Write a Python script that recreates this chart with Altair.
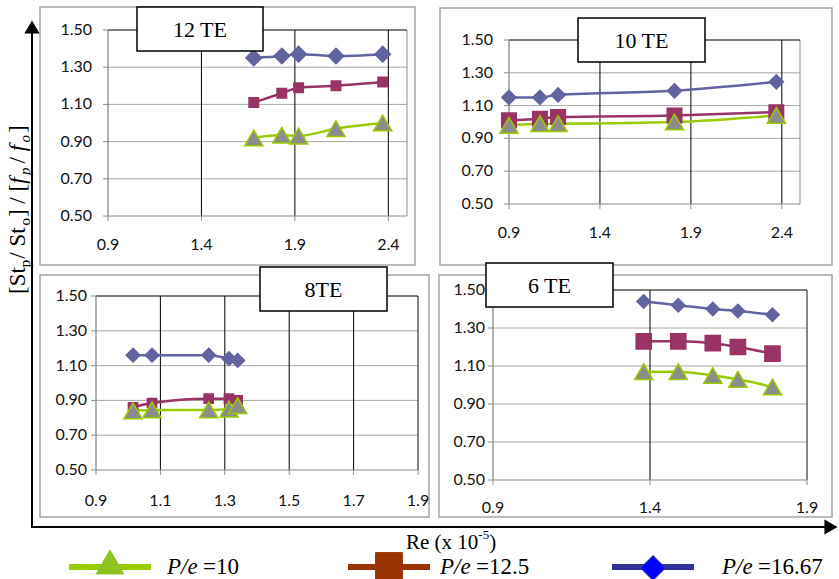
import altair as alt
import pandas as pd

# ---------------- data ----------------
SERIES = ["P/e =16.67", "P/e =12.5", "P/e =10"]

# 12 TE
re_12 = [1.68, 1.83, 1.92, 2.12, 2.37]
pe10_12 = [0.92, 0.935, 0.93, 0.97, 1.00]
pe125_12 = [1.11, 1.16, 1.19, 1.20, 1.22]
pe1667_12 = [1.35, 1.36, 1.37, 1.36, 1.37]

# 10 TE
re_10 = [0.90, 1.07, 1.17, 1.81, 2.37]
pe10_10 = [0.98, 0.99, 0.99, 1.00, 1.04]
pe125_10 = [1.01, 1.02, 1.03, 1.04, 1.06]
pe1667_10 = [1.15, 1.15, 1.165, 1.19, 1.245]

# 8 TE
re_8 = [1.015, 1.074, 1.25, 1.313, 1.34]
pe10_8 = [0.84, 0.845, 0.845, 0.85, 0.87]
pe125_8 = [0.86, 0.885, 0.91, 0.91, 0.90]
pe1667_8 = [1.16, 1.16, 1.16, 1.14, 1.13]

# 6 TE
re_6 = [1.38, 1.49, 1.60, 1.68, 1.79]
pe10_6 = [1.07, 1.07, 1.05, 1.03, 0.99]
pe125_6 = [1.23, 1.23, 1.22, 1.20, 1.165]
pe1667_6 = [1.44, 1.42, 1.40, 1.39, 1.37]

y_ticks = [0.5, 0.7, 0.9, 1.1, 1.3, 1.5]
x_ticks_wide = [0.9, 1.4, 1.9, 2.4]
x_ticks_8 = [0.9, 1.1, 1.3, 1.5, 1.7, 1.9]
x_ticks_6 = [0.9, 1.4, 1.9]

panel_labels = ["12 TE", "10 TE", "8TE", "6 TE"]

# ---------------- styles ----------------
LINE_COLORS = ["#6264A0", "#993366", "#99CC00"]
FILL_COLORS = ["#6264A0", "#993366", "#8C8C8C"]
STROKE_COLORS = ["#6264A0", "#993366", "#99CC00"]
SHAPES = ["diamond", "square", "triangle-up"]
TICK_FONT = "Lato"
SERIF = "Liberation Serif"

PANELS = [
    dict(label=panel_labels[0], re=re_12, ys=[pe1667_12, pe125_12, pe10_12],
         xticks=x_ticks_wide, xdom=[0.9, 2.5], xr=[108, 407], yr=[216, 30],
         xlab_y=245, ylab_gap=16, box=(40, 7, 415, 265), lbox=(137, 7, 263, 51),
         sizes=[240, 90, 330]),
    dict(label=panel_labels[1], re=re_10, ys=[pe1667_10, pe125_10, pe10_10],
         xticks=x_ticks_wide, xdom=[0.9, 2.5], xr=[509, 800], yr=[204, 40],
         xlab_y=233, ylab_gap=16, box=(440, 8, 832, 265), lbox=(578, 18, 705, 62),
         sizes=[200, 210, 330]),
    dict(label=panel_labels[2], re=re_8, ys=[pe1667_8, pe125_8, pe10_8],
         xticks=x_ticks_8, xdom=[0.9, 1.9], xr=[96, 418], yr=[470, 296],
         xlab_y=501, ylab_gap=9, box=(40, 275, 429, 517), lbox=(260, 267, 387, 311),
         sizes=[190, 85, 330]),
    dict(label=panel_labels[3], re=re_6, ys=[pe1667_6, pe125_6, pe10_6],
         xticks=x_ticks_6, xdom=[0.9, 1.9], xr=[493, 807], yr=[480, 290],
         xlab_y=508, ylab_gap=8, box=(439, 275, 832, 517), lbox=(486, 263, 613, 307),
         sizes=[180, 230, 330]),
]

ONE = pd.DataFrame({"k": [0]})


def panel_chart(p):
    xs = alt.Scale(domain=p["xdom"], range=p["xr"], nice=False, zero=False)
    ys = alt.Scale(domain=[0.5, 1.5], range=p["yr"], nice=False, zero=False)
    x0, x1 = p["xr"]
    yb, yt = p["yr"]
    bx0, by0, bx1, by1 = p["box"]
    lx0, ly0, lx1, ly1 = p["lbox"]

    outer = alt.Chart(ONE).mark_rect(fill="white", stroke="#A6A6A6", strokeWidth=1.5).encode(
        x=alt.value(bx0), x2=alt.value(bx1), y=alt.value(by0), y2=alt.value(by1))

    hg = pd.DataFrame({"v": [v for v in y_ticks if 0.5 < v < 1.5]})
    hgrid = alt.Chart(hg).mark_rule(color="#A6A6A6", strokeWidth=1).encode(
        y=alt.Y("v:Q", scale=ys, axis=None), x=alt.value(x0), x2=alt.value(x1))

    vg = pd.DataFrame({"v": [v for v in p["xticks"] if v > p["xdom"][0]]})
    vgrid = alt.Chart(vg).mark_rule(color="#000000", strokeWidth=1).encode(
        x=alt.X("v:Q", scale=xs, axis=None), y=alt.value(yt), y2=alt.value(yb))

    frame_right = alt.Chart(ONE).mark_rule(color="#8C8C8C", strokeWidth=1).encode(
        x=alt.value(x1), y=alt.value(yt), y2=alt.value(yb))
    frame_top = alt.Chart(ONE).mark_rule(color="#000000", strokeWidth=1).encode(
        x=alt.value(x0), x2=alt.value(x1), y=alt.value(yt))
    frame_left = alt.Chart(ONE).mark_rule(color="#7F7F7F", strokeWidth=1.2).encode(
        x=alt.value(x0), y=alt.value(yt), y2=alt.value(yb))
    frame_bottom = alt.Chart(ONE).mark_rule(color="#8C8C8C", strokeWidth=1.2).encode(
        x=alt.value(x0), x2=alt.value(x1), y=alt.value(yb))

    xt = pd.DataFrame({"v": p["xticks"]})
    xtick_marks = alt.Chart(xt).mark_rule(color="#8C8C8C").encode(
        x=alt.X("v:Q", scale=xs, axis=None), y=alt.value(yb), y2=alt.value(yb + 5))
    xtick_labels = alt.Chart(xt).mark_text(font=TICK_FONT, fontSize=16, color="#111111",
                                           align="center", baseline="middle").encode(
        x=alt.X("v:Q", scale=xs, axis=None), y=alt.value(p["xlab_y"]),
        text=alt.Text("v:Q", format=".1f"))

    yt_df = pd.DataFrame({"v": y_ticks})
    ytick_marks = alt.Chart(yt_df).mark_rule(color="#8C8C8C").encode(
        y=alt.Y("v:Q", scale=ys, axis=None), x=alt.value(x0 - 5), x2=alt.value(x0))
    ytick_labels = alt.Chart(yt_df).mark_text(font=TICK_FONT, fontSize=16, color="#111111",
                                              align="right", baseline="middle").encode(
        y=alt.Y("v:Q", scale=ys, axis=None), x=alt.value(x0 - p["ylab_gap"]),
        text=alt.Text("v:Q", format=".2f"))

    rows = []
    for s, vals in zip(SERIES, p["ys"]):
        for r, v in zip(p["re"], vals):
            rows.append({"Re": r, "ratio": v, "series": s})
    df = pd.DataFrame(rows)
    df["ord"] = df["series"].map({s: i for i, s in enumerate(SERIES)})

    lines = alt.Chart(df).mark_line(strokeWidth=2.5, interpolate="monotone").encode(
        x=alt.X("Re:Q", scale=xs, axis=None),
        y=alt.Y("ratio:Q", scale=ys, axis=None),
        color=alt.Color("series:N", scale=alt.Scale(domain=SERIES, range=LINE_COLORS), legend=None),
        order=alt.Order("ord:Q"),
    )
    point_layers = []
    for i, s in enumerate(SERIES):
        point_layers.append(
            alt.Chart(df[df["series"] == s]).mark_point(
                filled=True, shape=SHAPES[i], fill=FILL_COLORS[i], stroke=STROKE_COLORS[i],
                strokeWidth=1.5, size=p["sizes"][i], opacity=1).encode(
                x=alt.X("Re:Q", scale=xs, axis=None),
                y=alt.Y("ratio:Q", scale=ys, axis=None))
        )

    lbox = alt.Chart(ONE).mark_rect(fill="white", stroke="black", strokeWidth=1.5).encode(
        x=alt.value(lx0), x2=alt.value(lx1), y=alt.value(ly0), y2=alt.value(ly1))
    ltext = alt.Chart(pd.DataFrame({"t": [p["label"]]})).mark_text(
        font=SERIF, fontSize=22, align="center", baseline="middle", color="black").encode(
        x=alt.value((lx0 + lx1) / 2), y=alt.value((ly0 + ly1) / 2 + 1), text="t:N")

    return alt.layer(outer, hgrid, vgrid, frame_right, frame_top, frame_left, frame_bottom,
                     xtick_marks, ytick_marks, xtick_labels, ytick_labels,
                     lines, *point_layers, lbox, ltext)


# ---------------- decorations ----------------
W = {"[": .333, "]": .333, "S": .556, "t": .278, " ": .25, "/": .278, "p": .5, "o": .5,
     "f": .3, "R": .667, "e": .444, "(": .333, ")": .333, "x": .5, "1": .5, "0": .5,
     "-": .333, "5": .5, "P": .611, "=": .564, ".": .25, "6": .5, "7": .5, "2": .5}


def tw(s, size):
    return sum(W.get(c, .5) for c in s) * size


def text_mark(t, x, y, size, style="normal", angle=0, align="left", baseline="alphabetic"):
    return alt.Chart(pd.DataFrame({"t": [t]})).mark_text(
        font=SERIF, fontSize=size, fontStyle=style, angle=angle, align=align,
        baseline=baseline, color="black").encode(
        x=alt.value(x), y=alt.value(y), text="t:N")


deco = []
# axis arrows
deco.append(alt.Chart(ONE).mark_rule(color="black", strokeWidth=2).encode(
    x=alt.value(32), y=alt.value(30), y2=alt.value(528)))
deco.append(alt.Chart(ONE).mark_rule(color="black", strokeWidth=2).encode(
    x=alt.value(31), x2=alt.value(826), y=alt.value(527)))
deco.append(alt.Chart(ONE).mark_point(shape="triangle-up", filled=True, color="black",
                                      size=230, opacity=1).encode(x=alt.value(32), y=alt.value(27)))
deco.append(alt.Chart(ONE).mark_point(shape="triangle-right", filled=True, color="black",
                                      size=230, opacity=1).encode(x=alt.value(831), y=alt.value(527)))

# y title (rotated, with subscripts): (text, size, style, baseline shift, extra gap)
F, SUB = 23, 15
pieces = [("[St", F, "normal", 0, 0), ("p", SUB, "normal", 5, 1), (" / St", F, "normal", 0, -4),
          ("o", SUB, "normal", 5, 1), ("] / [", F, "normal", 0, 0), ("f", F, "italic", 0, 2),
          ("p", SUB, "italic", 5, 4), ("/ ", F, "normal", 0, 0), ("f", F, "italic", 0, 2),
          ("o", SUB, "italic", 5, 2), ("]", F, "normal", 0, 0)]
ycur = 294
for t, sz, st, shift, gap in pieces:
    deco.append(text_mark(t, 25 + shift, ycur, sz, st, angle=270))
    ycur -= tw(t, sz) + gap

# x title
xcur = 406
deco.append(text_mark("Re (x 10", xcur, 549, 21))
xcur += tw("Re (x 10", 21)
deco.append(text_mark("-5", xcur, 539, 13))
xcur += tw("-5", 13)
deco.append(text_mark(")", xcur, 549, 21))

# legend
LEG = [
    dict(x0=69, x1=151, line="#99CC00", shape="triangle-up", fill="#8DC21F", stroke="#8DC21F",
         size=760, tx=167, val="=10", py=562),
    dict(x0=348, x1=430, line="#993300", shape="square", fill="#993300", stroke="#993300",
         size=720, tx=440, val="=12.5", py=566),
    dict(x0=612, x1=694, line="#333399", shape="diamond", fill="#0000FF", stroke="#333399",
         size=620, tx=722, val="=16.67", py=568),
]
for L in LEG:
    deco.append(alt.Chart(ONE).mark_rule(color=L["line"], strokeWidth=6).encode(
        x=alt.value(L["x0"]), x2=alt.value(L["x1"]), y=alt.value(567)))
    deco.append(alt.Chart(ONE).mark_point(shape=L["shape"], filled=True, fill=L["fill"],
                                          stroke=L["stroke"], strokeWidth=1, size=L["size"],
                                          opacity=1).encode(
        x=alt.value((L["x0"] + L["x1"]) / 2), y=alt.value(L["py"])))
    deco.append(text_mark("P/e", L["tx"], 574, 23, "italic"))
    deco.append(text_mark(L["val"], L["tx"] + 36, 574, 23))

chart = alt.layer(*[panel_chart(p) for p in PANELS], *deco).resolve_scale(
    x="independent", y="independent", color="independent"
).properties(width=839, height=579, padding=0, autosize="none",
             background="white").configure_view(stroke=None)

chart.save("out.html", embed_options={"renderer": "svg", "actions": False})
